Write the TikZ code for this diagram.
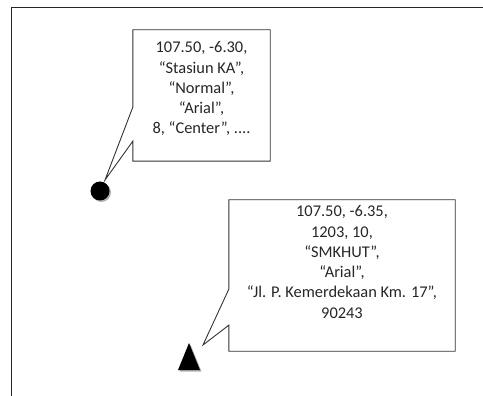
\documentclass[tikz,border=0pt]{standalone}
\usepackage{fontspec}
\setmainfont{Carlito}
\usetikzlibrary{shapes.geometric}

\tikzset{
  callbox/.style={draw=none, minimum width=#1, inner sep=0pt},
  calltext/.style={align=center, font=\fontsize{16.4}{20.3}\selectfont, text=black!85, inner sep=0pt},
  callline/.style={line width=0.9pt, black!80},
}

\begin{document}
\begin{tikzpicture}[x=1pt, y=-1pt]
\useasboundingbox (0,0) rectangle (483,396);

% frame on top and left
\draw [line width=1pt, black!85] (11,396) -- (11,8) -- (483,8);

% point symbol and its callout
\fill [gray!60] (101.5,192.5) circle (9.5);
\node [circle, fill=black, minimum size=19, inner sep=0pt] (dot) at (100,191) {};
\coordinate (tipA) at (105,180);
\node [callbox=137, minimum height=131] (boxA) at (201.5,95.5) {};
\node [calltext, anchor=north] (textA) at (201.5,41.5)
  {107.50, -6.30,\\ “Stasiun KA”,\\ “Normal”,\\ “Arial”,\\ 8, “Center”, ....};
\draw [callline] (boxA.north west) -- (boxA.north east) -- (boxA.south east) -- (boxA.south west)
  -- ([yshift=20]boxA.south west) -- (tipA) -- ([yshift=54]boxA.south west) -- cycle;

% triangle symbol and its callout
\fill [gray!60] (179.5,371.5) -- (190.5,344.5) -- (201.5,371.5) -- cycle;
\fill (178,370) -- (189,343) -- (200,370) -- cycle;
\coordinate (tipB) at (203,345);
\node [callbox=226, minimum height=151] (boxB) at (342,275.5) {};
\node [calltext, anchor=north] (textB) at (342,205.5)
  {107.50, -6.35,\\ 1203, 10,\\ “SMKHUT”,\\ “Arial”,\\ “Jl. P. Kemerdekaan Km. 17”,\\ 90243};
\draw [callline] (boxB.north west) -- (boxB.north east) -- (boxB.south east) -- (boxB.south west)
  -- ([yshift=26]boxB.south west) -- (tipB) -- ([yshift=62]boxB.south west) -- cycle;

\end{tikzpicture}
\end{document}
